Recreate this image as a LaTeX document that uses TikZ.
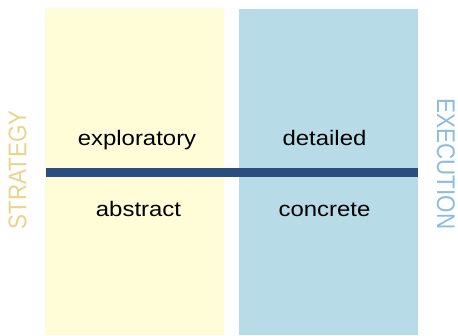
\documentclass[tikz,border=0pt]{standalone}
\usepackage{fontspec}
\setmainfont{Liberation Sans}
\definecolor{cream}{HTML}{FFFCD8}
\definecolor{paleblue}{HTML}{B7DCE8}
\definecolor{barblue}{HTML}{2B4E80}
\definecolor{strat}{HTML}{E9D48C}
\definecolor{exec}{HTML}{8CBCDE}
\begin{document}
\begin{tikzpicture}[x=1pt,y=-1pt,
  lbl/.style={anchor=base,inner sep=0pt,font=\fontsize{21}{21}\selectfont},
  side/.style={inner sep=0pt,font=\fontsize{22.4}{22.4}\selectfont}]
\useasboundingbox (0,0) rectangle (458,335);
\fill[cream] (45,8) rectangle (224,335);
\fill[paleblue] (239,9) rectangle (418,335);
\fill[barblue] (46,168) rectangle (418,177);
\node[lbl] (explo) at (137,145.5) {\scalebox{1.14}[1]{exploratory}};
\node[lbl] (abst) at (138.5,216.5) {\scalebox{1.14}[1]{abstract}};
\node[lbl] (deta) at (324.5,145.5) {\scalebox{1.14}[1]{detailed}};
\node[lbl] (conc) at (324.5,216.5) {\scalebox{1.14}[1]{concrete}};
\node[side,text=strat] (strategy) at (17.5,170) {\scalebox{1.14}[1]{\rotatebox{90}{STRATEGY}}};
\node[side,text=exec] (execution) at (446,164) {\scalebox{1.14}[1]{\rotatebox{-90}{EXECUTION}}};
\end{tikzpicture}
\end{document}
